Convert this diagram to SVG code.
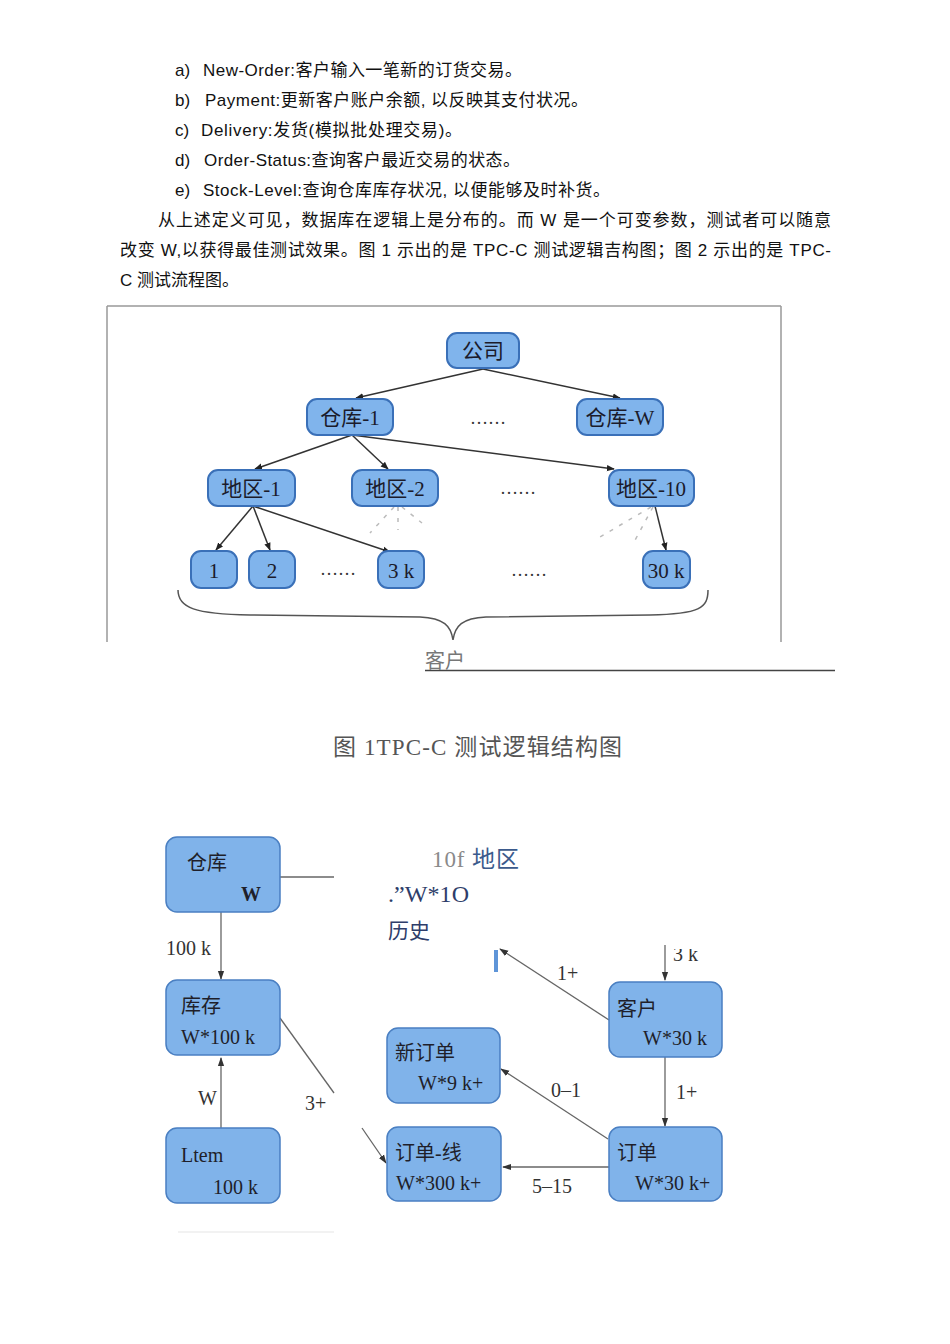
<svg xmlns="http://www.w3.org/2000/svg" width="950" height="1344" viewBox="0 0 950 1344">
<style>
.body{font-family:"Liberation Sans","Noto Sans CJK SC",sans-serif;font-size:17px;fill:#111}
.n1{fill:#80b4ec;stroke:#3a70b8;stroke-width:2}
.n2{fill:#80b3ea;stroke:#4a7fc2;stroke-width:1.5}
.t1{font-family:"Liberation Serif","Noto Sans CJK SC",serif;font-size:21px;fill:#1b1b2b;text-anchor:middle}
.t2{font-family:"Liberation Serif","Noto Sans CJK SC",serif;font-size:20px;fill:#1f1f2a}
.lab{font-family:"Liberation Serif","Noto Sans CJK SC",serif;font-size:20px;fill:#333}
.e1{stroke:#333;stroke-width:1.5;fill:none}
.e2{stroke:#666;stroke-width:1.3;fill:none}
.dash{stroke:#bbb;stroke-width:1.5;stroke-dasharray:4 7;fill:none}
.dots{font-family:"Liberation Serif",serif;font-size:18px;fill:#333;text-anchor:middle}
</style>
<defs>
<marker id="ah" viewBox="0 0 10 10" refX="9" refY="5" markerWidth="8" markerHeight="8" orient="auto" markerUnits="userSpaceOnUse">
<path d="M0,1 L10,5 L0,9 z" fill="#222"/>
</marker>
<marker id="ah2" viewBox="0 0 10 10" refX="9" refY="5" markerWidth="9" markerHeight="9" orient="auto" markerUnits="userSpaceOnUse">
<path d="M0,1.5 L10,5 L0,8.5 z" fill="#333"/>
</marker>
<clipPath id="cl3k"><rect x="660" y="949" width="60" height="30"/></clipPath>
</defs>
<rect width="950" height="1344" fill="#fff"/>

<!-- body text -->
<g id="text-list">
<text class="body" x="175" y="76">a)</text><text class="body" x="203" y="76" textLength="319">New-Order:客户输入一笔新的订货交易。</text>
<text class="body" x="175" y="106">b)</text><text class="body" x="205" y="106" textLength="383">Payment:更新客户账户余额, 以反映其支付状况。</text>
<text class="body" x="175" y="136">c)</text><text class="body" x="201" y="136" textLength="261">Delivery:发货(模拟批处理交易)。</text>
<text class="body" x="175" y="166">d)</text><text class="body" x="204" y="166" textLength="316">Order-Status:查询客户最近交易的状态。</text>
<text class="body" x="175" y="196">e)</text><text class="body" x="203" y="196" textLength="407">Stock-Level:查询仓库库存状况, 以便能够及时补货。</text>
<text class="body" x="158" y="226" textLength="673">从上述定义可见，数据库在逻辑上是分布的。而 W 是一个可变参数，测试者可以随意</text>
<text class="body" x="120" y="256" textLength="711">改变 W,以获得最佳测试效果。图 1 示出的是 TPC-C 测试逻辑吉构图；图 2 示出的是 TPC-</text>
<text class="body" x="120" y="286">C 测试流程图。</text>
</g>

<!-- figure 1 frame -->
<g id="frame1" stroke="#999" stroke-width="1.5" fill="none">
<path d="M107,306 L781,306"/>
<path d="M107,306 L107,642"/>
<path d="M781,306 L781,642"/>
</g>

<g id="connectors1">
<path class="e1" d="M483,369 L356,398" marker-end="url(#ah)"/>
<path class="e1" d="M483,369 L620,398" marker-end="url(#ah)"/>
<path class="e1" d="M352,435 L255,469" marker-end="url(#ah)"/>
<path class="e1" d="M352,435 L388,469" marker-end="url(#ah)"/>
<path class="e1" d="M352,435 L614,469" marker-end="url(#ah)"/>
<path class="e1" d="M253,506 L216,550" marker-end="url(#ah)"/>
<path class="e1" d="M253,506 L270,550" marker-end="url(#ah)"/>
<path class="e1" d="M253,506 L390,552" marker-end="url(#ah)"/>
<path class="e1" d="M655,506 L666,550" marker-end="url(#ah)"/>
<path class="dash" d="M394,507 L370,533"/>
<path class="dash" d="M398,507 L398,530"/>
<path class="dash" d="M402,507 L422,523"/>
<path class="dash" d="M651,507 L600,537"/>
<path class="dash" d="M653,507 L634,542"/>
</g>

<g id="n-gongsi"><rect class="n1" x="447" y="333" width="72" height="35" rx="10"/><text class="t1" x="483" y="358">公司</text></g>
<g id="n-ck1"><rect class="n1" x="307" y="399" width="86" height="36" rx="10"/><text class="t1" x="350" y="425">仓库-1</text></g>
<g id="n-ckw"><rect class="n1" x="577" y="399" width="86" height="36" rx="10"/><text class="t1" x="620" y="425">仓库-W</text></g>
<g id="n-dq1"><rect class="n1" x="208" y="470" width="87" height="36" rx="10"/><text class="t1" x="251" y="496">地区-1</text></g>
<g id="n-dq2"><rect class="n1" x="352" y="470" width="86" height="36" rx="10"/><text class="t1" x="395" y="496">地区-2</text></g>
<g id="n-dq10"><rect class="n1" x="609" y="470" width="85" height="36" rx="10"/><text class="t1" x="651" y="496">地区-10</text></g>
<g id="n-c1"><rect class="n1" x="191" y="551" width="46" height="37" rx="10"/><text class="t1" x="214" y="578">1</text></g>
<g id="n-c2"><rect class="n1" x="249" y="551" width="46" height="37" rx="10"/><text class="t1" x="272" y="578">2</text></g>
<g id="n-c3k"><rect class="n1" x="378" y="551" width="46" height="37" rx="10"/><text class="t1" x="401" y="578">3 k</text></g>
<g id="n-c30k"><rect class="n1" x="643" y="551" width="47" height="37" rx="10"/><text class="t1" x="666" y="578">30 k</text></g>

<g id="dots1">
<text class="dots" x="488" y="424">……</text>
<text class="dots" x="518" y="494">……</text>
<text class="dots" x="338" y="575">……</text>
<text class="dots" x="529" y="576">……</text>
</g>

<g id="brace">
<path d="M178,590 C178,608 195,614 250,615 L420,617 C444,618 451,626 453,640 C455,626 462,618 486,617 L650,615 C700,614 708,608 708,590" fill="none" stroke="#555" stroke-width="1.5"/>
</g>
<g id="customers-label">
<text x="425" y="668" font-family="'Noto Sans CJK SC',sans-serif" font-size="20" fill="#777">客户</text>
<line x1="425" y1="670.5" x2="835" y2="670.5" stroke="#444" stroke-width="1.5"/>
</g>

<text id="caption1" x="333" y="755" font-family="'Liberation Serif','Noto Sans CJK SC',serif" font-size="23" fill="#555" textLength="289">图 1TPC-C 测试逻辑结构图</text>

<!-- figure 2 -->
<g id="connectors2">
<path class="e2" d="M280,877 L334,877"/>
<path class="e2" d="M221,912 L221,979" marker-end="url(#ah2)"/>
<path class="e2" d="M221,1128 L221,1058" marker-end="url(#ah2)"/>
<path class="e2" d="M280,1018 L334,1093"/>
<path class="e2" d="M362,1128 L386,1163" marker-end="url(#ah2)"/>
<path class="e2" d="M665,945 L665,980" marker-end="url(#ah2)"/>
<path class="e2" d="M609,1020 L500,949" marker-end="url(#ah2)"/>
<path class="e2" d="M665,1057 L665,1126" marker-end="url(#ah2)"/>
<path class="e2" d="M608,1139 L501,1069" marker-end="url(#ah2)"/>
<path class="e2" d="M609,1167 L503,1167" marker-end="url(#ah2)"/>
<line x1="178" y1="1232" x2="334" y2="1232" stroke="#eee" stroke-width="1.5"/>
</g>
<g id="edge-labels2">
<text class="lab" x="166" y="955">100 k</text>
<text class="lab" x="198" y="1105">W</text>
<text class="lab" x="305" y="1110">3+</text>
<text class="lab" x="557" y="980">1+</text>
<text class="lab" x="676" y="1099">1+</text>
<text class="lab" x="551" y="1097">0–1</text>
<text class="lab" x="532" y="1193">5–15</text>
<text class="lab" x="673" y="961" clip-path="url(#cl3k)">3 k</text>
</g>

<g id="n-cangku"><rect class="n2" x="166" y="837" width="114" height="75" rx="11"/><text class="t2" x="187" y="870">仓库</text><text class="t2" x="241" y="901" font-weight="bold">W</text></g>
<g id="n-kucun"><rect class="n2" x="166" y="980" width="114" height="75" rx="11"/><text class="t2" x="181" y="1013">库存</text><text class="t2" x="181" y="1044">W*100 k</text></g>
<g id="n-item"><rect class="n2" x="166" y="1128" width="114" height="75" rx="11"/><text class="t2" x="181" y="1162">Ltem</text><text class="t2" x="213" y="1194">100 k</text></g>
<g id="n-kehu"><rect class="n2" x="609" y="982" width="113" height="75" rx="11"/><text class="t2" x="617" y="1016">客户</text><text class="t2" x="643" y="1045">W*30 k</text></g>
<g id="n-xindingdan"><rect class="n2" x="387" y="1028" width="113" height="75" rx="11"/><text class="t2" x="395" y="1060">新订单</text><text class="t2" x="418" y="1090">W*9 k+</text></g>
<g id="n-dingdan"><rect class="n2" x="609" y="1127" width="113" height="74" rx="11"/><text class="t2" x="617" y="1160">订单</text><text class="t2" x="635" y="1190">W*30 k+</text></g>
<g id="n-dingdanxian"><rect class="n2" x="387" y="1127" width="114" height="74" rx="11"/><text class="t2" x="395" y="1160">订单-线</text><text class="t2" x="396" y="1190">W*300 k+</text></g>
<g id="n-lishi-fragment"><rect x="494" y="950" width="4" height="22" fill="#5f95d8"/></g>

<g id="overlay-text">
<text x="432" y="867" font-family="'Liberation Serif','Noto Sans CJK SC',serif" font-size="23" textLength="87"><tspan fill="#8a8a8a">10f </tspan><tspan fill="#3b5a8c">地区</tspan></text>
<text x="388" y="902" font-family="'Liberation Serif','Noto Sans CJK SC',serif" font-size="24" fill="#2e3d6a" textLength="81">.”W*1O</text>
<text x="388" y="938" font-family="'Liberation Serif','Noto Sans CJK SC',serif" font-size="21" fill="#2e3d6a">历史</text>
</g>
</svg>
